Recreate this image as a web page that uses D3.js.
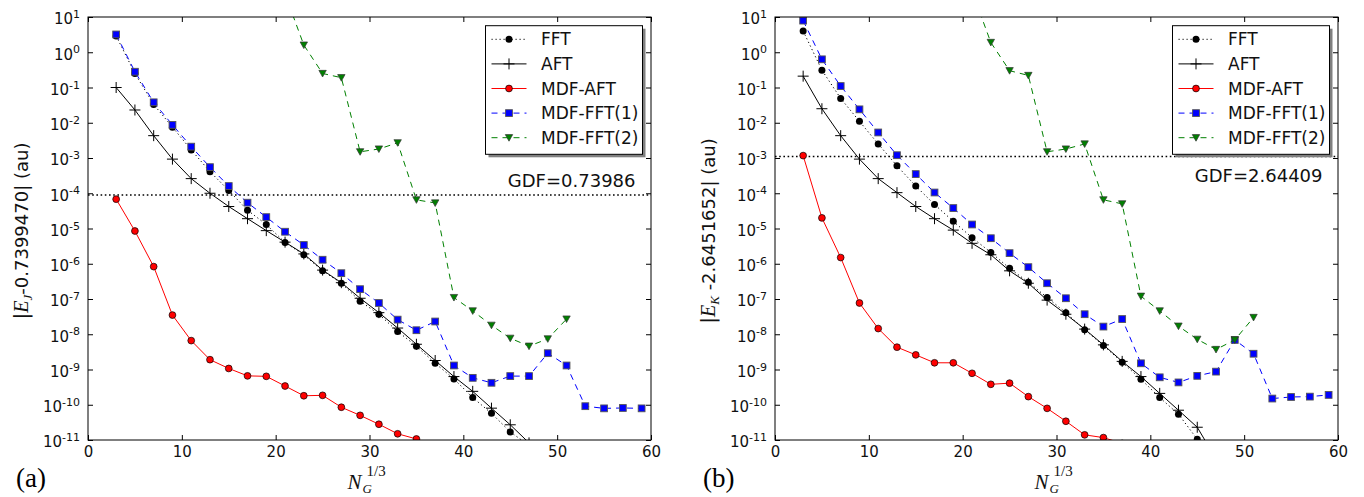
<!DOCTYPE html>
<html>
<head>
<meta charset="utf-8">
<script src="https://cdn.jsdelivr.net/npm/d3@7/dist/d3.min.js"></script>
<style>
body { margin: 0; background: #fff; }
</style>
</head>
<body>
<div id="chart"></div>
<script>
// x positions (N_G^(1/3))
var ngAll = [3,5,7,9,11,13,15,17,19,21,23,25,27,29,31,33,35,37,39,41,43,45,47,49,51,53,55,57,59];
var ngShort = [3,5,7,9,11,13,15,17,19,21,23,25,27,29,31,33,35,37,39,41,43,45,47];
var ngMdfAft = [3,5,7,9,11,13,15,17,19,21,23,25,27,29,31,33,35,37];
var ngMdf2 = [21,23,25,27,29,31,33,35,37,39,41,43,45,47,49,51];

var seriesNames = ["FFT", "AFT", "MDF-AFT", "MDF-FFT(1)", "MDF-FFT(2)"];
var xTicks = [0, 10, 20, 30, 40, 50, 60];
var yTicks = [1e1,1e0,1e-1,1e-2,1e-3,1e-4,1e-5,1e-6,1e-7,1e-8,1e-9,1e-10,1e-11];

// panel (a): |E_J - 0.7399470|
var fftA = [2.9,0.25,0.033,0.0075,0.0017,4.1e-4,1.2e-4,3.3e-5,1.3e-5,4.0e-6,1.8e-6,6.3e-7,2.8e-7,8.7e-8,3.7e-8,1.2e-8,4.6e-9,1.5e-9,5.4e-10,1.6e-10,5.7e-11,1.7e-11,7e-12];
var aftA = [0.1,0.023,0.0043,9.3e-4,2.6e-4,1.0e-4,4.2e-5,1.9e-5,8.7e-6,4.1e-6,1.9e-6,6.6e-7,2.9e-7,1.05e-7,4.1e-8,1.5e-8,5.2e-9,1.8e-9,6.3e-10,2.4e-10,8e-11,2.7e-11,8.3e-12];
var mdfAftA = [6.8e-5,8.5e-6,8.3e-7,3.5e-8,6.6e-9,1.9e-9,1.07e-9,6.6e-10,6.4e-10,3.4e-10,1.8e-10,1.85e-10,8.5e-11,5e-11,2.8e-11,1.5e-11,1.07e-11,7e-12];
var mdfFft1A = [3.2,0.28,0.038,0.0087,0.0021,5.5e-4,1.6e-4,5.4e-5,2.1e-5,8.1e-6,3.4e-6,1.3e-6,5.4e-7,1.9e-7,7.7e-8,2.6e-8,1.3e-8,2.3e-8,1.3e-9,5.8e-10,4.2e-10,6.5e-10,6.5e-10,2.9e-9,1.3e-9,9.1e-11,7.9e-11,8.1e-11,7.9e-11];
var mdfFft2A = [45,1.6,0.25,0.19,1.5e-3,1.8e-3,2.7e-3,6.5e-5,5.3e-5,1.1e-7,4.6e-8,1.8e-8,7.7e-9,4.6e-9,7.4e-9,2.7e-8];
var gdfA = 8.9e-5;

// panel (b): |E_K - 2.6451652|
var fftB = [4.0,0.31,0.049,0.011,0.0025,6e-4,1.6e-4,4.8e-5,1.6e-5,5.5e-6,2.1e-6,7.4e-7,3e-7,1.1e-7,4.1e-8,1.35e-8,4.8e-9,1.6e-9,5.3e-10,1.6e-10,5.4e-11,1.05e-11,2e-12];
var aftB = [0.21,0.025,0.0043,9.3e-4,2.6e-4,1.04e-4,4.2e-5,1.9e-5,9e-6,3.8e-6,1.8e-6,6.3e-7,2.8e-7,9.3e-8,3.7e-8,1.4e-8,5e-9,1.7e-9,6.3e-10,2.1e-10,7e-11,2.3e-11,2.9e-12];
var mdfAftB = [1.17e-3,2e-5,1.5e-6,7.7e-8,1.45e-8,4.3e-9,2.6e-9,1.55e-9,1.55e-9,7.8e-10,3.8e-10,4.1e-10,1.7e-10,7.9e-11,3.4e-11,1.4e-11,1.17e-11,8e-12];
var mdfFft1B = [7.9,0.63,0.11,0.024,0.0053,1.2e-3,3.5e-4,1.05e-4,3.8e-5,1.3e-5,5.3e-6,2e-6,8e-7,2.8e-7,1.05e-7,3.7e-8,1.65e-8,2.7e-8,1.5e-9,6e-10,4.3e-10,6.6e-10,8.7e-10,6.9e-9,2.8e-9,1.5e-10,1.66e-10,1.7e-10,1.9e-10];
var mdfFft2B = [54,1.9,0.3,0.22,1.5e-3,1.8e-3,2.5e-3,6.5e-5,5e-5,1.2e-7,4.6e-8,1.7e-8,7.2e-9,3.7e-9,6.9e-9,3e-8];
var gdfB = 1.1e-3;

var styles = {
  "FFT":        {color: "#000", dash: "1.2,2.8", marker: "dot"},
  "AFT":        {color: "#000", dash: null, marker: "plus"},
  "MDF-AFT":    {color: "#ff0000", dash: null, marker: "circle"},
  "MDF-FFT(1)": {color: "#0000ff", dash: "6,5", marker: "square"},
  "MDF-FFT(2)": {color: "#008000", dash: "6,5", marker: "tri"}
};

var sansFont = "DejaVu Sans, sans-serif";
var serifFont = "Liberation Serif, DejaVu Serif, serif";

var svg = d3.select("#chart").append("svg")
  .attr("width", 1364)
  .attr("height", 497);

function addMarker(sel, kind, color) {
  if (kind == "dot") {
    sel.append("circle").attr("r", 3.5).attr("fill", "#000");
  } else if (kind == "circle") {
    sel.append("circle").attr("r", 3.4).attr("fill", color)
      .attr("stroke", "#000").attr("stroke-width", 0.7);
  } else if (kind == "square") {
    sel.append("rect").attr("x", -3.4).attr("y", -3.4).attr("width", 6.8).attr("height", 6.8)
      .attr("fill", color).attr("stroke", "#555").attr("stroke-width", 0.9);
  } else if (kind == "tri") {
    sel.append("path").attr("d", "M-3.7,-3.1L3.7,-3.1L0,3.5Z").attr("fill", color)
      .attr("stroke", "#333").attr("stroke-width", 0.7);
  } else if (kind == "plus") {
    sel.append("path").attr("d", "M-5.5,0H5.5M0,-5.5V5.5").attr("stroke", "#000")
      .attr("stroke-width", 1).attr("fill", "none");
  }
}

function drawPanel(p, idx) {
  var width = 563, height = 423;
  var g = svg.append("g").attr("transform", "translate(" + p.left + ",17)");

  var x = d3.scaleLinear().domain([0, 60]).range([0, width]);
  var y = d3.scaleLog().domain([1e-11, 10]).range([height, 0]);

  g.append("clipPath").attr("id", "clip" + idx)
    .append("rect").attr("width", width).attr("height", height);

  // axes with inward ticks on all sides
  var xb = g.append("g").attr("transform", "translate(0," + height + ")")
    .call(d3.axisBottom(x).tickValues(xTicks).tickSizeInner(-5).tickSizeOuter(0).tickPadding(6));
  g.append("g").call(d3.axisTop(x).tickValues(xTicks).tickSizeInner(-5).tickSizeOuter(0).tickFormat(""));
  var yl = g.append("g")
    .call(d3.axisLeft(y).tickValues(yTicks).tickSizeInner(-5).tickSizeOuter(0).tickPadding(8).tickFormat(function(){ return ""; }));
  g.append("g").attr("transform", "translate(" + width + ",0)")
    .call(d3.axisRight(y).tickValues(yTicks).tickSizeInner(-5).tickSizeOuter(0).tickFormat(""));
  g.selectAll(".domain").remove();
  g.selectAll(".tick line").attr("stroke", "#000");

  xb.selectAll(".tick text").attr("font-family", sansFont).attr("font-size", "15px").attr("fill", "#111");
  yl.selectAll(".tick text").each(function(d) {
    var t = d3.select(this).attr("font-family", sansFont).attr("font-size", "15px")
      .attr("fill", "#111").attr("dy", "0.45em");
    t.append("tspan").text("10");
    t.append("tspan").attr("dy", "-0.55em").attr("font-size", "11px").text(Math.round(Math.log10(d)));
  });

  var plot = g.append("g").attr("clip-path", "url(#clip" + idx + ")");

  // GDF reference level
  plot.append("line")
    .attr("x1", 0).attr("x2", width)
    .attr("y1", y(p.gdf)).attr("y2", y(p.gdf))
    .attr("stroke", "#000").attr("stroke-width", 1.6).attr("stroke-dasharray", "1.6,2.6");

  var line = d3.line()
    .x(function(d) { return x(d[0]); })
    .y(function(d) { return y(d[1]); });

  p.series.forEach(function(s, i) {
    var st = styles[seriesNames[i]];
    var pts = s[0].map(function(v, j) { return [v, s[1][j]]; });
    plot.append("path").datum(pts)
      .attr("d", line)
      .attr("fill", "none")
      .attr("stroke", st.color)
      .attr("stroke-width", 1)
      .attr("stroke-dasharray", st.dash);
    plot.selectAll(".m" + i).data(pts).enter().append("g")
      .attr("transform", function(d) { return "translate(" + x(d[0]) + "," + y(d[1]) + ")"; })
      .each(function() { addMarker(d3.select(this), st.marker, st.color); });
  });

  // GDF text
  g.append("text")
    .attr("x", 547.5)
    .attr("y", y(p.gdfTextAt))
    .attr("text-anchor", "end")
    .attr("font-family", sansFont).attr("font-size", "18px").attr("fill", "#111")
    .text(p.gdfText);

  // legend
  var lg = g.append("g").attr("transform", "translate(397.5,8.7)");
  lg.append("rect").attr("x", 3).attr("y", 3).attr("width", 157).attr("height", 128.6).attr("fill", "#808080");
  lg.append("rect").attr("width", 157).attr("height", 128.6).attr("fill", "#fff")
    .attr("stroke", "#000").attr("stroke-width", 1);
  seriesNames.forEach(function(name, i) {
    var st = styles[name];
    var row = lg.append("g").attr("transform", "translate(0," + (13.6 + i * 24.6) + ")");
    row.append("line").attr("x1", 6).attr("x2", 41)
      .attr("stroke", st.color).attr("stroke-width", 1).attr("stroke-dasharray", st.dash);
    addMarker(row.append("g").attr("transform", "translate(23.5,0)"), st.marker, st.color);
    row.append("text").attr("x", 55.5).attr("dy", "0.36em")
      .attr("font-family", sansFont).attr("font-size", "17px").attr("fill", "#111")
      .text(name);
  });

  // frame
  g.append("rect").attr("width", width).attr("height", height)
    .attr("fill", "none").attr("stroke", "#000").attr("stroke-width", 1);

  // y label
  var yt = svg.append("text")
    .attr("transform", "translate(" + (p.left - 60) + "," + 231 + ") rotate(-90)")
    .attr("text-anchor", "middle")
    .attr("font-family", sansFont).attr("font-size", "18px").attr("fill", "#111");
  yt.append("tspan").attr("font-size", "20px").text("|");
  yt.append("tspan").attr("font-family", serifFont).attr("font-style", "italic").attr("font-size", "20px").text("E");
  yt.append("tspan").attr("font-family", serifFont).attr("font-style", "italic").attr("font-size", "13px").attr("dy", 4).text(p.sub);
  yt.append("tspan").attr("dy", -4).text(p.rest);

  // x label N_G^(1/3)
  var cx = p.left + width / 2 - 22;
  svg.append("text").attr("x", cx).attr("y", 489)
    .attr("font-family", serifFont).attr("font-style", "italic").attr("font-size", "21px").attr("fill", "#111")
    .text("N");
  svg.append("text").attr("x", cx + 15).attr("y", 493)
    .attr("font-family", serifFont).attr("font-style", "italic").attr("font-size", "13px").attr("fill", "#111")
    .text("G");
  svg.append("text").attr("x", cx + 19).attr("y", 476)
    .attr("font-family", serifFont).attr("font-size", "15px").attr("fill", "#111")
    .text("1/3");

  // panel tag
  svg.append("text").attr("x", p.left - 72).attr("y", 487)
    .attr("font-family", serifFont).attr("font-size", "27px").attr("fill", "#000")
    .text(p.tag);
}

drawPanel({
  left: 88, tag: "(a)", sub: "J", rest: "-0.7399470| (au)",
  gdf: gdfA, gdfTextAt: 1.5e-4, gdfText: "GDF=0.73986",
  series: [[ngShort, fftA], [ngShort, aftA], [ngMdfAft, mdfAftA], [ngAll, mdfFft1A], [ngMdf2, mdfFft2A]]
}, 0);

drawPanel({
  left: 775, tag: "(b)", sub: "K", rest: " -2.6451652| (au)",
  gdf: gdfB, gdfTextAt: 2.1e-4, gdfText: "GDF=2.64409",
  series: [[ngShort, fftB], [ngShort, aftB], [ngMdfAft, mdfAftB], [ngAll, mdfFft1B], [ngMdf2, mdfFft2B]]
}, 1);
</script>
</body>
</html>
